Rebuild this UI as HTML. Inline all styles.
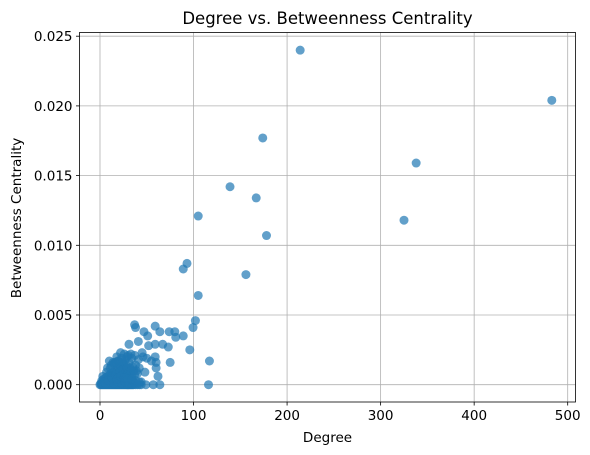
<!DOCTYPE html>
<html><head><meta charset="utf-8"><style>
body{margin:0;background:#fff;}
svg{display:block;font-family:"DejaVu Sans","Liberation Sans",sans-serif;}
</style></head><body>
<svg id="chart" width="590" height="455" viewBox="0 0 590 455">
<text x="327.5" y="24" font-size="16.5" text-anchor="middle" fill="#000">Degree vs. Betweenness Centrality</text>
<text x="327.5" y="442" font-size="13.5" text-anchor="middle">Degree</text>
<text x="0" y="0" font-size="13.5" text-anchor="middle" transform="translate(21,218) rotate(-90)">Betweenness Centrality</text>
<g id="grid"></g><g id="pts"></g><g id="axes"></g>
</svg>
<script>
const degree = [214,483,338,174,139,167,325,105,178,93,89,156,105,102,99.5,96,117,116,
37,38,59,47,51,64,74,80,81,89,41,31,52,59,67,73,45,59,60,75,48,60,62,64,57,49,
0,1,2,3,4,5,6,7,8,9,10,11,12,13,14,15,16,17,18,19,20,21,22,23,24,25,26,27,28,29,30,31,32,33,34,35,36,38,40,42,44,
2,4,6,8,10,12,14,16,18,20,22,24,26,28,30,32,34,
3,7,11,15,19,23,27,31,35,39,
5,9,13,17,21,25,29,33,37,41,
1,3,5,7,9,11,13,15,17,19,21,23,25,27,29,
10,14,18,22,26,30,34,38,42,46,50,55,
6,12,20,28,36,44,
8,12,16,20,24,28,32,36,40,
9,13,17,21,25,29,33,37,
15,19,23,27,31,35,
18,22,26,30,34,38,42];
const betweenness = [0.0240,0.0204,0.0159,0.0177,0.0142,0.0134,0.0118,0.0121,0.0107,0.0087,0.0083,0.0079,0.0064,0.0046,0.0041,0.0025,0.0017,0.0000,
0.0043,0.0041,0.0042,0.0038,0.0035,0.0038,0.0038,0.0038,0.0034,0.0035,0.0031,0.0029,0.0028,0.0029,0.0029,0.0027,0.0023,0.0020,0.0016,0.0016,0.0009,0.0012,0.0006,0.0000,0.0000,0.0000,
0,0,0,0,0,0,0,0,0,0,0,0,0,0,0,0,0,0,0,0,0,0,0,0,0,0,0,0,0,0,0,0,0,0,0,0,0,0,0,0,0,
0.0003,0.0004,0.0005,0.0006,0.0007,0.0008,0.0009,0.0010,0.0011,0.0012,0.0013,0.0012,0.0011,0.0010,0.0009,0.0008,0.0006,
0.0006,0.0009,0.0012,0.0015,0.0017,0.0019,0.0018,0.0016,0.0013,0.0010,
0.0002,0.0004,0.0006,0.0008,0.0010,0.0015,0.0020,0.0022,0.0021,0.0018,
0.0001,0.0002,0.0002,0.0003,0.0003,0.0004,0.0004,0.0005,0.0005,0.0005,0.0006,0.0006,0.0007,0.0007,0.0007,
0.0017,0.0016,0.0020,0.0023,0.0022,0.0021,0.0019,0.0014,0.0012,0.0020,0.0019,0.0017,
0.0001,0.0003,0.0004,0.0003,0.0002,0.0002,
0.0012,0.0014,0.0016,0.0017,0.0016,0.0014,0.0012,0.0010,0.0008,
0.0003,0.0005,0.0007,0.0009,0.0011,0.0012,0.0010,0.0007,
0.0001,0.0002,0.0001,0.0002,0.0001,0.0003,
0.0004,0.0006,0.0005,0.0004,0.0004,0.0003,0.0002];
const xTicks = [0,100,200,300,400,500];
const yTicks = [0,0.005,0.010,0.015,0.020,0.025];
const yTickLabels = ["0.000","0.005","0.010","0.015","0.020","0.025"];

const L=79.5,R=575.5,T=32.5,B=402;
const xs=v=>100+v*0.9354;
const ys=v=>384.7-v*13940;
const NS="http://www.w3.org/2000/svg";
function mk(t,a,p){const e=document.createElementNS(NS,t);for(const k in a)e.setAttribute(k,a[k]);p.appendChild(e);return e;}
const grid=document.getElementById('grid'),pts=document.getElementById('pts'),axes=document.getElementById('axes');
xTicks.forEach(v=>{
  const x=xs(v);
  const g=mk('line',{x1:x,x2:x,y1:T,y2:B,stroke:'#b0b0b0','stroke-width':0.8},grid);
  
  
  mk('line',{x1:x,x2:x,y1:B,y2:B+3.5,stroke:'#000','stroke-width':0.8},axes);
  const t=mk('text',{x:x,y:B+18,'font-size':13.5,'text-anchor':'middle'},axes);
  t.textContent=String(v);
  
  
});
yTicks.forEach((v,i)=>{
  const y=ys(v);
  const g=mk('line',{x1:L,x2:R,y1:y,y2:y,stroke:'#b0b0b0','stroke-width':0.8},grid);
  
  
  mk('line',{x1:L-3.5,x2:L,y1:y,y2:y,stroke:'#000','stroke-width':0.8},axes);
  const t=mk('text',{x:L-7,y:y+5,'font-size':13.5,'text-anchor':'end'},axes);
  t.textContent=yTickLabels[i];
  
  
});
degree.forEach((d,i)=>{
  const c=mk('circle',{cx:xs(d),cy:ys(betweenness[i]),r:4.5,fill:'#1f77b4','fill-opacity':0.7},pts);
  
  
});
const f=mk('rect',{x:L,y:T,width:R-L,height:B-T,fill:'none',stroke:'#000','stroke-width':0.8},axes);


</script>
</body></html>
